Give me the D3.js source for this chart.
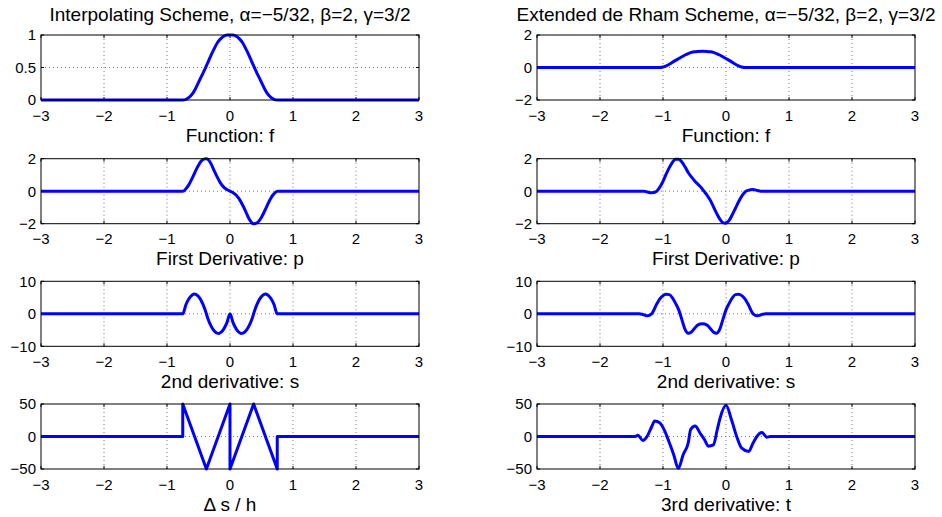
<!DOCTYPE html>
<html>
<head>
<meta charset="utf-8">
<script src="https://cdn.jsdelivr.net/npm/d3@7"></script>
<style>
  body { margin: 0; background: #fff; }
  text { font-family: "Liberation Sans", Arial, Helvetica, sans-serif; fill: #000; }
</style>
</head>
<body>
<div id="chart"></div>
<script>
// shared x ticks
var xTicks = [-3, -2, -1, 0, 1, 2, 3];

// titles and labels
var titles = ["Interpolating Scheme, \u03b1=\u22125/32, \u03b2=2, \u03b3=3/2",
              "Extended de Rham Scheme, \u03b1=\u22125/32, \u03b2=2, \u03b3=3/2"];
var leftLabels = ["Function: f", "First Derivative: p", "2nd derivative: s", "\u0394 s / h"];
var rightLabels = ["Function: f", "First Derivative: p", "2nd derivative: s", "3rd derivative: t"];

// y ticks per row
var leftYTicks = [[0, 0.5, 1], [-2, 0, 2], [-10, 0, 10], [-50, 0, 50]];
var rightYTicks = [[-2, 0, 2], [-2, 0, 2], [-10, 0, 10], [-50, 0, 50]];

// interpolating scheme
var intFx = [-3, -0.75, -0.7, -0.65, -0.6, -0.55, -0.5, -0.45, -0.4, -0.35, -0.3, -0.25, -0.2, -0.15, -0.1, -0.05, 0,
             0.05, 0.1, 0.15, 0.2, 0.25, 0.3, 0.35, 0.4, 0.45, 0.5, 0.55, 0.6, 0.65, 0.7, 0.75, 3];
var intF = [0, 0, 0.01, 0.04, 0.09, 0.17, 0.27, 0.37, 0.47, 0.58, 0.69, 0.79, 0.88, 0.94, 0.98, 1.0, 1.0,
            1.0, 0.98, 0.94, 0.88, 0.79, 0.69, 0.58, 0.47, 0.37, 0.27, 0.17, 0.09, 0.04, 0.01, 0, 0];

var intPx = [-3, -0.75, -0.7, -0.65, -0.6, -0.55, -0.5, -0.45, -0.4, -0.375, -0.35, -0.3, -0.25, -0.2, -0.15, -0.1, -0.05, 0,
             0.05, 0.1, 0.15, 0.2, 0.25, 0.3, 0.35, 0.375, 0.4, 0.45, 0.5, 0.55, 0.6, 0.65, 0.7, 0.75, 3];
var intP = [0, 0, 0.15, 0.42, 0.8, 1.22, 1.6, 1.88, 1.99, 2.0, 1.96, 1.68, 1.25, 0.85, 0.5, 0.25, 0.1, 0,
            -0.1, -0.25, -0.5, -0.85, -1.25, -1.68, -1.96, -2.0, -1.99, -1.88, -1.6, -1.22, -0.8, -0.42, -0.15, 0, 0];

var intSx = [-3, -0.75, -0.7, -0.65, -0.6, -0.5625, -0.5, -0.45, -0.4, -0.375, -0.35, -0.3, -0.25, -0.1875, -0.15, -0.1, -0.05, 0,
             0.05, 0.1, 0.15, 0.1875, 0.25, 0.3, 0.35, 0.375, 0.4, 0.45, 0.5, 0.5625, 0.6, 0.65, 0.7, 0.75, 3];
var intS = [0, 0, 2.8, 4.7, 5.8, 6.1, 5.3, 3.8, 1.5, 0, -1.5, -3.8, -5.3, -6.1, -5.8, -4.7, -2.8, 0,
            -2.8, -4.7, -5.8, -6.1, -5.3, -3.8, -1.5, 0, 1.5, 3.8, 5.3, 6.1, 5.8, 4.7, 2.8, 0, 0];

var intDx = [-3, -0.75, -0.75, -0.375, 0, 0, 0.375, 0.75, 0.75, 3];
var intD = [0, 0, 50, -50, 50, -50, 50, -50, 0, 0];

// extended de Rham scheme
var rhamFx = [-3, -1.05, -1.0, -0.95, -0.9, -0.85, -0.8, -0.75, -0.7, -0.65, -0.6, -0.55, -0.5, -0.45, -0.375,
              -0.3, -0.25, -0.2, -0.15, -0.1, -0.05, 0, 0.05, 0.1, 0.15, 0.2, 0.25, 0.3, 3];
var rhamF = [0, 0, 0.03, 0.1, 0.2, 0.32, 0.44, 0.55, 0.66, 0.77, 0.86, 0.93, 0.97, 0.99, 1.0,
             0.99, 0.97, 0.93, 0.86, 0.77, 0.66, 0.55, 0.44, 0.32, 0.2, 0.1, 0.03, 0, 0];

var rhamPx = [-3, -1.3, -1.25, -1.18, -1.1, -1.05, -1.0, -0.95, -0.9, -0.85, -0.8, -0.75, -0.7, -0.65, -0.6, -0.55, -0.5,
              -0.45, -0.4, -0.35, -0.3, -0.25, -0.2, -0.15, -0.1, -0.05, 0, 0.05, 0.1, 0.15, 0.2, 0.25, 0.3, 0.35, 0.43, 0.5, 0.55, 3];
var rhamP = [0, 0, -0.05, -0.1, 0, 0.25, 0.6, 1.05, 1.45, 1.78, 1.97, 1.97, 1.8, 1.5, 1.15, 0.88, 0.65,
             0.45, 0.25, 0, -0.25, -0.55, -0.95, -1.35, -1.7, -1.93, -1.97, -1.8, -1.45, -1.05, -0.65, -0.3, -0.05, 0.05, 0.1, 0.04, 0, 0];

var rhamSx = [-3, -1.38, -1.32, -1.25, -1.18, -1.1, -1.05, -1.0, -0.95, -0.9, -0.85, -0.8, -0.75, -0.7, -0.65, -0.6, -0.55,
              -0.5, -0.45, -0.375, -0.3, -0.25, -0.2, -0.15, -0.1, -0.05, 0, 0.05, 0.1, 0.15, 0.2, 0.25, 0.3, 0.35, 0.43, 0.5, 0.57, 0.63, 3];
var rhamS = [0, 0, -0.2, -0.6, 0, 3.0, 4.6, 5.6, 6.0, 5.9, 4.9, 3.2, 1.2, -1.8, -4.8, -6.0, -5.6,
             -4.5, -3.5, -3.1, -3.5, -4.5, -5.6, -6.0, -4.8, -1.8, 1.2, 3.2, 4.9, 5.9, 6.0, 5.6, 4.6, 3.0, 0, -0.6, -0.2, 0, 0];

var rhamTx = [-3, -1.44, -1.40, -1.32, -1.26, -1.18, -1.13, -1.05, -0.97, -0.89, -0.83, -0.757, -0.68, -0.6, -0.56, -0.49,
              -0.41, -0.34, -0.28, -0.2, -0.14, -0.095, 0, 0.09, 0.17, 0.25, 0.36, 0.43, 0.49, 0.57, 0.65, 0.70, 3];
var rhamT = [0, 0, 2, -6, -1, 15, 24, 21, 8, -12, -28, -49, -28, -10, 11, 16,
             5, -5, -15, -13, 10, 28, 48, 25, 0, -18, -23, -10, 0, 6, -1, 0, 0];

// layout
var width = 942, height = 517;
var colLeft = [41, 537];
var rowTop = [35, 158.7, 281.3, 404];
var axW = 378, axH = 65;

var panels = [
  {col: 0, row: 0, xs: intFx, ys: intF, dom: [0, 1], yt: leftYTicks[0], label: leftLabels[0], curve: d3.curveMonotoneX},
  {col: 0, row: 1, xs: intPx, ys: intP, dom: [-2, 2], yt: leftYTicks[1], label: leftLabels[1], curve: d3.curveMonotoneX},
  {col: 0, row: 2, xs: intSx, ys: intS, dom: [-10, 10], yt: leftYTicks[2], label: leftLabels[2], curve: d3.curveMonotoneX},
  {col: 0, row: 3, xs: intDx, ys: intD, dom: [-50, 50], yt: leftYTicks[3], label: leftLabels[3], curve: d3.curveLinear},
  {col: 1, row: 0, xs: rhamFx, ys: rhamF, dom: [-2, 2], yt: rightYTicks[0], label: rightLabels[0], curve: d3.curveMonotoneX},
  {col: 1, row: 1, xs: rhamPx, ys: rhamP, dom: [-2, 2], yt: rightYTicks[1], label: rightLabels[1], curve: d3.curveMonotoneX},
  {col: 1, row: 2, xs: rhamSx, ys: rhamS, dom: [-10, 10], yt: rightYTicks[2], label: rightLabels[2], curve: d3.curveMonotoneX},
  {col: 1, row: 3, xs: rhamTx, ys: rhamT, dom: [-50, 50], yt: rightYTicks[3], label: rightLabels[3], curve: d3.curveMonotoneX}
];

var svg = d3.select("#chart").append("svg")
  .attr("width", width)
  .attr("height", height);

function fmt(v) { return String(v).replace("-", "\u2212"); }

// column titles
titles.forEach(function(t, i) {
  svg.append("text")
    .attr("x", colLeft[i] + axW / 2)
    .attr("y", 20.7)
    .attr("text-anchor", "middle")
    .style("font-size", "19px")
    .text(t);
});

panels.forEach(function(pn) {
  var g = svg.append("g")
    .attr("transform", "translate(" + colLeft[pn.col] + "," + rowTop[pn.row] + ")");

  var x = d3.scaleLinear().domain([-3, 3]).range([0, axW]);
  var y = d3.scaleLinear().domain(pn.dom).range([axH, 0]);

  // dotted grid
  g.selectAll(".vgrid").data(xTicks.slice(1, -1)).enter().append("line")
    .attr("x1", function(d) { return x(d); })
    .attr("x2", function(d) { return x(d); })
    .attr("y1", 0).attr("y2", axH)
    .style("stroke", "#777").style("stroke-width", 1)
    .style("stroke-dasharray", "1,3");
  g.selectAll(".hgrid").data(pn.yt.slice(1, -1)).enter().append("line")
    .attr("x1", 0).attr("x2", axW)
    .attr("y1", function(d) { return y(d); })
    .attr("y2", function(d) { return y(d); })
    .style("stroke", "#777").style("stroke-width", 1)
    .style("stroke-dasharray", "1,3");

  // inward ticks on all sides
  xTicks.forEach(function(d) {
    g.append("line").attr("x1", x(d)).attr("x2", x(d)).attr("y1", axH).attr("y2", axH - 3).style("stroke", "#000");
    g.append("line").attr("x1", x(d)).attr("x2", x(d)).attr("y1", 0).attr("y2", 3).style("stroke", "#000");
  });
  pn.yt.forEach(function(d) {
    g.append("line").attr("x1", 0).attr("x2", 3).attr("y1", y(d)).attr("y2", y(d)).style("stroke", "#000");
    g.append("line").attr("x1", axW).attr("x2", axW - 3).attr("y1", y(d)).attr("y2", y(d)).style("stroke", "#000");
  });

  // tick labels
  g.selectAll(".xl").data(xTicks).enter().append("text")
    .attr("x", function(d) { return x(d); })
    .attr("y", axH + 20.5)
    .attr("text-anchor", "middle")
    .style("font-size", "15px")
    .text(fmt);
  g.selectAll(".yl").data(pn.yt).enter().append("text")
    .attr("x", -5)
    .attr("y", function(d) { return y(d); })
    .attr("dy", "0.36em")
    .attr("text-anchor", "end")
    .style("font-size", "15px")
    .text(fmt);

  // the curve
  var pts = pn.xs.map(function(v, i) { return [v, pn.ys[i]]; });
  var line = d3.line()
    .x(function(d) { return x(d[0]); })
    .y(function(d) { return y(d[1]); })
    .curve(pn.curve);
  g.append("path")
    .datum(pts)
    .attr("d", line)
    .style("fill", "none")
    .style("stroke", "#0000ff")
    .style("stroke-width", 3)
    .style("stroke-linejoin", "round");

  // box
  g.append("rect")
    .attr("x", 0).attr("y", 0)
    .attr("width", axW).attr("height", axH)
    .style("fill", "none")
    .style("stroke", "#000")
    .style("stroke-width", 1);

  // x label
  g.append("text")
    .attr("x", axW / 2)
    .attr("y", axH + 41.5)
    .attr("text-anchor", "middle")
    .style("font-size", "19px")
    .text(pn.label);
});
</script>
</body>
</html>
